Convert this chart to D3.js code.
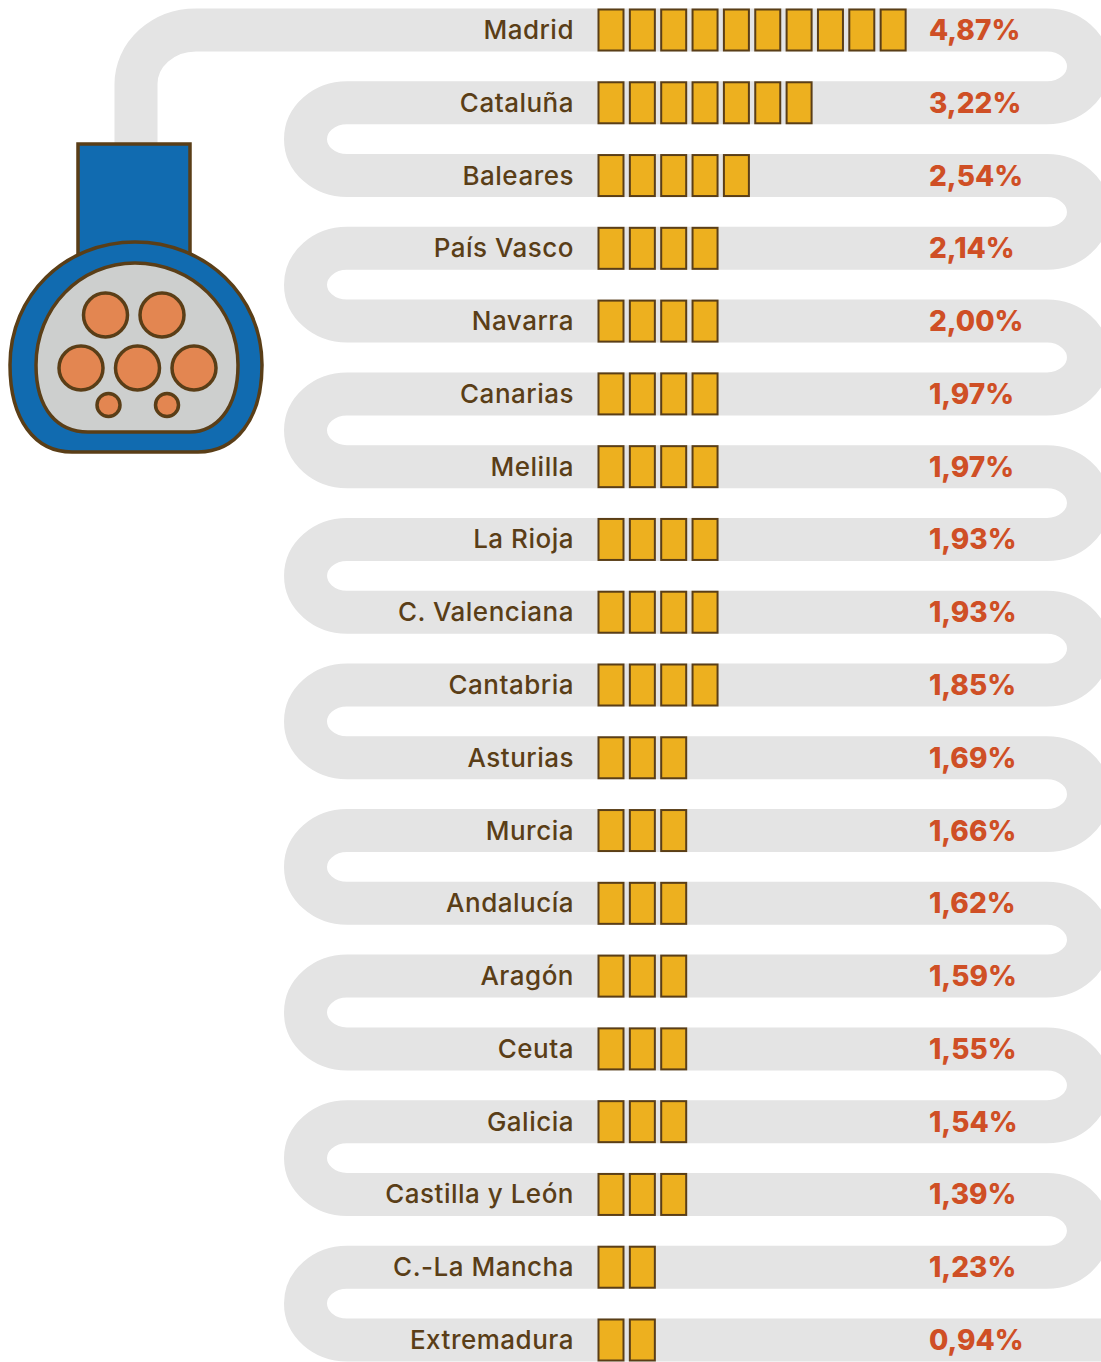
<!DOCTYPE html>
<html>
<head>
<meta charset="utf-8">
<script src="https://cdn.jsdelivr.net/npm/d3@7"></script>
<style>
  html, body { margin: 0; background: #fff; }
  svg { display: block; }
  text { font-family: Inter, "Open Sans", sans-serif; }
</style>
</head>
<body>
<div id="chart"></div>
<script>
const regions = ["Madrid", "Cataluña", "Baleares", "País Vasco", "Navarra", "Canarias", "Melilla", "La Rioja", "C. Valenciana", "Cantabria", "Asturias", "Murcia", "Andalucía", "Aragón", "Ceuta", "Galicia", "Castilla y León", "C.-La Mancha", "Extremadura"];
const values = [4.87, 3.22, 2.54, 2.14, 2.00, 1.97, 1.97, 1.93, 1.93, 1.85, 1.69, 1.66, 1.62, 1.59, 1.55, 1.54, 1.39, 1.23, 0.94];
const units = [10, 7, 5, 4, 4, 4, 4, 4, 4, 4, 3, 3, 3, 3, 3, 3, 3, 2, 2];

const brown = "#5a3e17", blue = "#116bb0", orange = "#e38651";
const width = 1101, height = 1362;
const bandH = 43;

const svg = d3.select("#chart").append("svg").attr("width", width).attr("height", height);

const y = d3.scalePoint().domain(regions).range([30, 1340]);
const x = d3.scaleLinear().domain([0, 10]).range([598.5, 912]);
const fmt = d3.formatLocale({ decimal: ",", thousands: ".", grouping: [3], currency: ["", ""] }).format(".2f");

// the cable
const xL = 347, xR = 1047, rx = 41.5, ry = (y(regions[1]) - y(regions[0])) / 2;
let d = `M136,150 L136,84 A60,54 0 0 1 196,30 `;
regions.forEach((r, i) => {
  if (i === regions.length - 1) { d += `L${width + 5},${y(r)}`; return; }
  const right = i % 2 === 0;
  d += `L${right ? xR : xL},${y(r)} A${rx},${ry} 0 0 ${right ? 1 : 0} ${right ? xR : xL},${y(regions[i + 1])} `;
});
svg.append("path").attr("d", d).attr("fill", "none").attr("stroke", "#e4e4e4").attr("stroke-width", bandH);

// rows
const rows = svg.selectAll("g.row").data(regions).join("g").attr("class", "row")
  .attr("transform", r => `translate(0,${y(r)})`);

rows.append("text").attr("x", 574).attr("y", 9).attr("text-anchor", "end")
  .attr("font-size", 26).attr("font-weight", 500).attr("letter-spacing", 0.5).attr("fill", brown).text(r => r);

rows.selectAll("rect").data((r, i) => d3.range(units[i])).join("rect")
  .attr("x", k => x(k)).attr("y", -20.5).attr("width", 25).attr("height", 41)
  .attr("fill", "#edb01f").attr("stroke", brown).attr("stroke-width", 2);

rows.append("text").attr("x", 929).attr("y", 10).attr("font-size", 28).attr("font-weight", 800)
  .attr("fill", "#cf4f25").text((r, i) => fmt(values[i]) + "%");

// the plug
const plug = svg.append("g").attr("stroke", brown).attr("stroke-width", 3.5);
plug.append("rect").attr("x", 78).attr("y", 144).attr("width", 112).attr("height", 120).attr("fill", blue);
plug.append("path").attr("fill", blue)
  .attr("d", "M72,452 C35,452 10,420 10,365 C10,295 65,242 135,242 C205,242 262,295 262,365 C262,420 235,452 198,452 Z");
plug.append("path").attr("fill", "#cdcfce")
  .attr("d", "M88,432 C58,432 36,410 36,365 C36,308 80,263 135,263 C192,263 238,308 238,365 C238,410 215,432 190,432 Z");
const pins = [[105.5, 315, 22], [162, 315, 22], [81, 368, 22], [137.5, 368, 22], [194, 368, 22], [108.5, 405, 11.5], [167, 405, 11.5]];
plug.selectAll("circle").data(pins).join("circle")
  .attr("cx", p => p[0]).attr("cy", p => p[1]).attr("r", p => p[2]).attr("fill", orange);
</script>
</body>
</html>
